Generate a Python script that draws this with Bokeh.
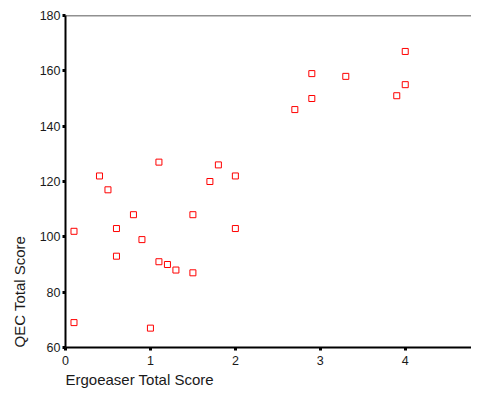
from bokeh.plotting import figure
from bokeh.models import Range1d, FixedTicker, Title, Span
from bokeh.embed import file_html
from bokeh.resources import INLINE

# Data
ergoeaser = [0.1, 0.1, 0.4, 0.5, 0.6, 0.6, 0.8, 0.9, 1.0, 1.1, 1.1, 1.2, 1.3,
             1.5, 1.5, 1.7, 1.8, 2.0, 2.0, 2.7, 2.9, 2.9, 3.3, 3.9, 4.0, 4.0]
qec = [69, 102, 122, 117, 103, 93, 108, 99, 67, 91, 127, 90, 88,
       87, 108, 120, 126, 122, 103, 146, 159, 150, 158, 151, 155, 167]
x_ticks = [0, 1, 2, 3, 4]
y_ticks = [60, 80, 100, 120, 140, 160, 180]
x_label = "Ergoeaser Total Score"
y_label = "QEC Total Score"

FONT = "Liberation Sans"

p = figure(width=471, height=389, output_backend="svg", toolbar_location=None,
           tools="",
           x_range=Range1d(0, 4.78), y_range=Range1d(60, 180),
           min_border_left=65, min_border_right=0, min_border_top=15,
           min_border_bottom=42)

p.xgrid.visible = False
p.ygrid.visible = False
p.outline_line_color = None
p.background_fill_color = "white"
p.border_fill_color = "white"

for ax, ticks in ((p.xaxis[0], x_ticks), (p.yaxis[0], y_ticks)):
    ax.ticker = FixedTicker(ticks=ticks)
    ax.axis_line_color = "black"
    ax.axis_line_width = 2
    ax.major_tick_line_color = "black"
    ax.major_tick_line_width = 3
    ax.major_tick_out = 3
    ax.major_tick_in = 0
    ax.minor_tick_line_color = None
    ax.major_label_text_font = FONT
    ax.major_label_text_font_size = "12.5px"
    ax.major_label_text_color = "#1a1a1a"

p.yaxis[0].major_label_standoff = 2
p.xaxis[0].major_label_standoff = 5

# top frame line
p.add_layout(Span(location=p.y_range.end, dimension="width",
                  line_color="#222222", line_width=1.5))

p.scatter(ergoeaser, qec, marker="square", size=6, line_color="#ff0000",
          line_alpha=1.0, fill_color="white", fill_alpha=1.0, line_width=1)

p.add_layout(Title(text=x_label, align="left", text_font=FONT,
                   text_font_size="15px", text_font_style="normal",
                   text_color="#1a1a1a", standoff=2), "below")
p.add_layout(Title(text=y_label, align="left", text_font=FONT,
                   text_font_size="15px", text_font_style="normal",
                   text_color="#1a1a1a", standoff=17), "left")

open("out.html", "w").write(file_html(p, INLINE))
